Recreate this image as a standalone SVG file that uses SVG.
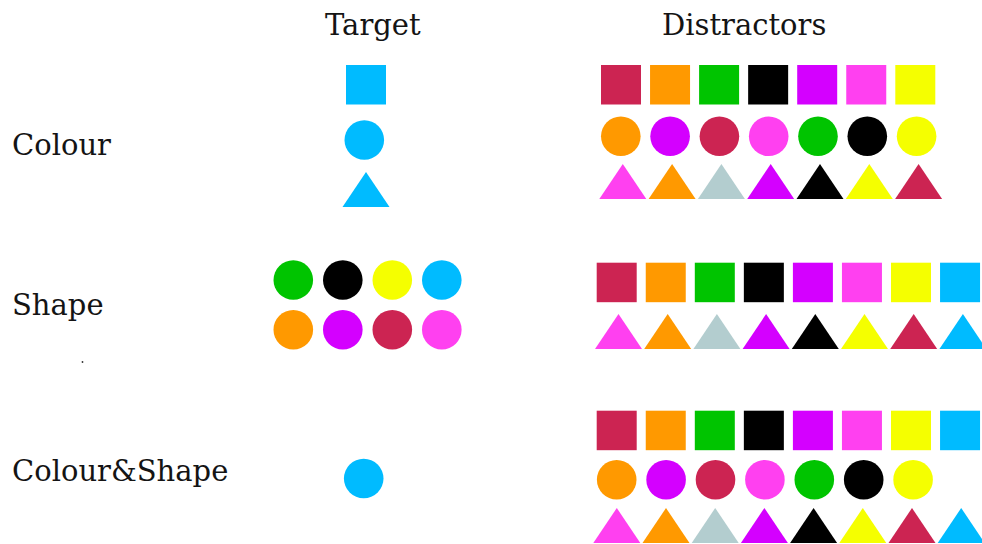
<svg xmlns="http://www.w3.org/2000/svg" xmlns:xlink="http://www.w3.org/1999/xlink" width="982" height="544" viewBox="0 0 982 544">
<style>
text{font-family:"DejaVu Serif","Liberation Serif",serif;font-size:29px;fill:#141414}
.cr{fill:#CC2452}.or{fill:#FF9900}.gr{fill:#00C400}.bk{fill:#000}.pu{fill:#D400FF}.pk{fill:#FF40F0}.ye{fill:#F5FF00}.cy{fill:#00BBFF}.gy{fill:#B3CDCF}
</style>
<defs>
<rect id="sq" x="0" y="0" width="40" height="39.5"/>
<circle id="ci" cx="0" cy="0" r="19.8"/>
<path id="tr" d="M0,35 L23.5,0 L47,35 Z"/>
</defs>
<rect width="982" height="544" fill="#fff"/>
<g id="headers">
<text x="325" y="35">Target</text>
<text x="662" y="35">Distractors</text>
</g>
<g id="labels">
<text x="12" y="155">Colour</text>
<text x="12" y="315">Shape</text>
<text x="12" y="481">Colour&amp;Shape</text>
<circle cx="82.5" cy="362" r="0.9" fill="#333"/>
</g>
<g id="colour-target">
<use href="#sq" x="346" y="65" class="cy"/>
<use href="#ci" x="364.3" y="140" class="cy"/>
<use href="#tr" x="342.5" y="172" class="cy"/>
</g>
<g id="colour-distractors">
<use href="#sq" x="601" y="65" class="cr"/>
<use href="#sq" x="650.05" y="65" class="or"/>
<use href="#sq" x="699.1" y="65" class="gr"/>
<use href="#sq" x="748.15" y="65" class="bk"/>
<use href="#sq" x="797.2" y="65" class="pu"/>
<use href="#sq" x="846.25" y="65" class="pk"/>
<use href="#sq" x="895.3" y="65" class="ye"/>
<use href="#ci" x="620.8" y="136.3" class="or"/>
<use href="#ci" x="670.1" y="136.3" class="pu"/>
<use href="#ci" x="719.4" y="136.3" class="cr"/>
<use href="#ci" x="768.7" y="136.3" class="pk"/>
<use href="#ci" x="818" y="136.3" class="gr"/>
<use href="#ci" x="867.3" y="136.3" class="bk"/>
<use href="#ci" x="916.6" y="136.3" class="ye"/>
<use href="#tr" x="599.3" y="164" class="pk"/>
<use href="#tr" x="648.6" y="164" class="or"/>
<use href="#tr" x="697.9" y="164" class="gy"/>
<use href="#tr" x="747.2" y="164" class="pu"/>
<use href="#tr" x="796.5" y="164" class="bk"/>
<use href="#tr" x="845.8" y="164" class="ye"/>
<use href="#tr" x="895.1" y="164" class="cr"/>
</g>
<g id="shape-target">
<use href="#ci" x="293.3" y="280" class="gr"/>
<use href="#ci" x="342.8" y="280" class="bk"/>
<use href="#ci" x="392.3" y="280" class="ye"/>
<use href="#ci" x="441.8" y="280" class="cy"/>
<use href="#ci" x="293.3" y="329.7" class="or"/>
<use href="#ci" x="342.8" y="329.7" class="pu"/>
<use href="#ci" x="392.3" y="329.7" class="cr"/>
<use href="#ci" x="441.8" y="329.7" class="pk"/>
</g>
<g id="shape-distractors">
<use href="#sq" x="596.7" y="262.7" class="cr"/>
<use href="#sq" x="645.75" y="262.7" class="or"/>
<use href="#sq" x="694.8" y="262.7" class="gr"/>
<use href="#sq" x="743.85" y="262.7" class="bk"/>
<use href="#sq" x="792.9" y="262.7" class="pu"/>
<use href="#sq" x="841.95" y="262.7" class="pk"/>
<use href="#sq" x="891" y="262.7" class="ye"/>
<use href="#sq" x="940.05" y="262.7" class="cy"/>
<use href="#tr" x="595" y="314" class="pk"/>
<use href="#tr" x="644.2" y="314" class="or"/>
<use href="#tr" x="693.4" y="314" class="gy"/>
<use href="#tr" x="742.6" y="314" class="pu"/>
<use href="#tr" x="791.8" y="314" class="bk"/>
<use href="#tr" x="841" y="314" class="ye"/>
<use href="#tr" x="890.2" y="314" class="cr"/>
<use href="#tr" x="939.4" y="314" class="cy"/>
</g>
<g id="colourshape-target">
<use href="#ci" x="363.7" y="478.5" class="cy"/>
</g>
<g id="colourshape-distractors">
<use href="#sq" x="596.7" y="410.7" class="cr"/>
<use href="#sq" x="645.75" y="410.7" class="or"/>
<use href="#sq" x="694.8" y="410.7" class="gr"/>
<use href="#sq" x="743.85" y="410.7" class="bk"/>
<use href="#sq" x="792.9" y="410.7" class="pu"/>
<use href="#sq" x="841.95" y="410.7" class="pk"/>
<use href="#sq" x="891" y="410.7" class="ye"/>
<use href="#sq" x="940.05" y="410.7" class="cy"/>
<use href="#ci" x="616.7" y="479.7" class="or"/>
<use href="#ci" x="666.1" y="479.7" class="pu"/>
<use href="#ci" x="715.5" y="479.7" class="cr"/>
<use href="#ci" x="764.9" y="479.7" class="pk"/>
<use href="#ci" x="814.3" y="479.7" class="gr"/>
<use href="#ci" x="863.7" y="479.7" class="bk"/>
<use href="#ci" x="913.1" y="479.7" class="ye"/>
<use href="#tr" x="593.3" y="508" class="pk"/>
<use href="#tr" x="642.5" y="508" class="or"/>
<use href="#tr" x="691.7" y="508" class="gy"/>
<use href="#tr" x="740.9" y="508" class="pu"/>
<use href="#tr" x="790.1" y="508" class="bk"/>
<use href="#tr" x="839.3" y="508" class="ye"/>
<use href="#tr" x="888.5" y="508" class="cr"/>
<use href="#tr" x="937.7" y="508" class="cy"/>
</g>
</svg>
